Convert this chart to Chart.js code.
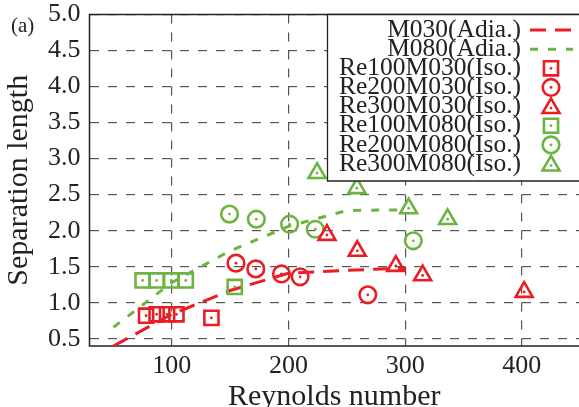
<!DOCTYPE html>
<html><head><meta charset="utf-8">
<script src="https://cdn.jsdelivr.net/npm/chart.js@4.4.1/dist/chart.umd.min.js"></script>
<style>html,body{margin:0;padding:0;background:#fff;overflow:hidden}#wrap{width:579px;height:407px}</style>
</head><body><div id="wrap"><canvas id="c" width="579" height="407"></canvas></div>
<script>
// ---- data ----
const seriesLabels = ['M030(Adia.)','M080(Adia.)','Re100M030(Iso.)','Re200M030(Iso.)','Re300M030(Iso.)','Re100M080(Iso.)','Re200M080(Iso.)','Re300M080(Iso.)'];
const adiaRe = [50, 100, 150, 200, 250, 300];
const m030Adia = [0.40, 0.84, 1.17, 1.41, 1.45, 1.48];
const m080Adia = [0.66, 1.28, 1.72, 2.06, 2.28, 2.29];
const re100m030Re = [78, 87, 96, 104, 134];
const re100m030L  = [0.82, 0.84, 0.84, 0.84, 0.79];
const re200m030Re = [155, 172, 194, 210, 268];
const re200m030L  = [1.55, 1.47, 1.40, 1.36, 1.11];
const re300m030Re = [233, 259, 292, 315, 402];
const re300m030L  = [1.94, 1.72, 1.51, 1.38, 1.15];
const re100m080Re = [75, 87, 99.5, 112, 154];
const re100m080L  = [1.31, 1.31, 1.31, 1.31, 1.22];
const re200m080Re = [149.5, 172.5, 201, 223, 307];
const re200m080L  = [2.23, 2.16, 2.09, 2.02, 1.86];
const re300m080Re = [224.5, 258.7, 303, 336.4];
const re300m080L  = [2.80, 2.59, 2.31, 2.16];
const xTicks = [100, 200, 300, 400];
const yTicks = [0.5, 1.0, 1.5, 2.0, 2.5, 3.0, 3.5, 4.0, 4.5, 5.0];
const xTitle = 'Reynolds number';
const yTitle = 'Separation length';
const panelTag = '(a)';

// ---- styles ----
const RED = '#ec1c24', GREEN = '#6cb33f', INK = '#222';
const FONT = "'Liberation Serif', 'Times New Roman', serif";
const pts = (xs, ys) => xs.map((x, i) => ({x, y: ys[i]}));

function lineDs(label, xs, ys, color, dash, width) {
  return {label, data: pts(xs, ys), showLine: true, borderColor: color, backgroundColor: color,
    borderWidth: width, borderDash: dash, pointRadius: 0, pointHoverRadius: 0, fill: false, tension: 0, order: 2, isLine: true};
}
function markDs(label, xs, ys, color, style, r) {
  return {label, data: pts(xs, ys), showLine: false, borderColor: color, backgroundColor: 'rgba(0,0,0,0)',
    pointStyle: style, pointRadius: r, pointHoverRadius: r, pointBorderWidth: 2.6, borderWidth: 2.6, order: 1};
}

const datasets = [
  lineDs(seriesLabels[0], adiaRe, m030Adia, RED, [16, 9], 3),
  lineDs(seriesLabels[1], adiaRe, m080Adia, GREEN, [8, 10], 3),
  markDs(seriesLabels[2], re100m030Re, re100m030L, RED, 'rect', 10),
  markDs(seriesLabels[3], re200m030Re, re200m030L, RED, 'circle', 8.3),
  markDs(seriesLabels[4], re300m030Re, re300m030L, RED, 'triangle', 9.8),
  markDs(seriesLabels[5], re100m080Re, re100m080L, GREEN, 'rect', 10),
  markDs(seriesLabels[6], re200m080Re, re200m080L, GREEN, 'circle', 8.3),
  markDs(seriesLabels[7], re300m080Re, re300m080L, GREEN, 'triangle', 9.8)
];

function drawMarker(ctx, style, r, x, y, color) {
  ctx.save();
  ctx.strokeStyle = color; ctx.lineWidth = 2.6; ctx.fillStyle = 'rgba(0,0,0,0)';
  if (Chart.helpers && Chart.helpers.drawPoint) {
    Chart.helpers.drawPoint(ctx, {pointStyle: style, radius: r, rotation: 0, borderWidth: 2.6}, x, y);
  }
  ctx.fillStyle = color;
  ctx.beginPath(); ctx.arc(x, y, 1.4, 0, Math.PI * 2); ctx.fill();
  ctx.restore();
}

const framePlugin = {
  id: 'frame',
  beforeDatasetsDraw(chart) {
    const {ctx, chartArea: a} = chart;
    ctx.save();
    ctx.strokeStyle = INK; ctx.lineWidth = 1.5; ctx.setLineDash([]);
    ctx.beginPath();
    ctx.moveTo(a.right + 2, a.top); ctx.lineTo(a.left, a.top); ctx.lineTo(a.left, a.bottom); ctx.lineTo(a.right + 2, a.bottom);
    ctx.stroke();
    ctx.restore();
  }
};

const dotPlugin = {
  id: 'dots',
  afterDatasetsDraw(chart) {
    const ctx = chart.ctx;
    chart.data.datasets.forEach((ds, i) => {
      if (ds.isLine) return;
      const meta = chart.getDatasetMeta(i);
      ctx.save(); ctx.fillStyle = ds.borderColor;
      meta.data.forEach(el => { ctx.beginPath(); ctx.arc(el.x, el.y, 1.4, 0, Math.PI * 2); ctx.fill(); });
      ctx.restore();
    });
  }
};

const legendPlugin = {
  id: 'boxLegend',
  afterDraw(chart) {
    const {ctx, chartArea: a} = chart;
    const boxL = 327.5, boxB = 181;
    ctx.save();
    ctx.fillStyle = '#fff';
    ctx.fillRect(boxL, a.top, chart.width - boxL + 5, boxB - a.top);
    ctx.strokeStyle = INK; ctx.lineWidth = 1.3; ctx.setLineDash([]);
    ctx.beginPath(); ctx.moveTo(chart.width + 2, a.top); ctx.lineTo(boxL, a.top); ctx.lineTo(boxL, boxB); ctx.lineTo(chart.width + 2, boxB); ctx.stroke();
    ctx.font = '25.5px ' + FONT; ctx.fillStyle = INK; ctx.textAlign = 'right'; ctx.textBaseline = 'middle';
    chart.data.datasets.forEach((ds, i) => {
      const y = 30 + i * 19.15;
      ctx.fillStyle = INK;
      ctx.fillText(ds.label, 521, y);
      if (ds.isLine) {
        ctx.save(); ctx.strokeStyle = ds.borderColor; ctx.lineWidth = ds.borderWidth; ctx.setLineDash(ds.borderDash);
        ctx.beginPath(); ctx.moveTo(530, y); ctx.lineTo(573, y); ctx.stroke(); ctx.restore();
      } else {
        drawMarker(ctx, ds.pointStyle, ds.pointRadius, 551, y + (ds.pointStyle === 'triangle' ? 1.5 : 0), ds.borderColor);
      }
    });
    // panel tag
    ctx.textAlign = 'left'; ctx.textBaseline = 'alphabetic'; ctx.font = '21px ' + FONT; ctx.fillStyle = INK;
    ctx.fillText(panelTag, 11, 32);
    ctx.restore();
  }
};

new Chart(document.getElementById('c'), {
  type: 'scatter',
  data: {datasets},
  plugins: [framePlugin, dotPlugin, legendPlugin],
  options: {
    responsive: false, animation: false, devicePixelRatio: 1,
    layout: {autoPadding: false, padding: {top: 14.5, right: 0, left: 0, bottom: 0}},
    plugins: {legend: {display: false}, tooltip: {enabled: false}},
    scales: {
      x: {
        type: 'linear', min: 29.5, max: 449,
        afterBuildTicks: s => { s.ticks = xTicks.map(v => ({value: v})); },
        afterFit: s => { s.height = 61; s.paddingLeft = 0; s.paddingRight = 0; },
        ticks: {font: {family: FONT, size: 26}, color: INK, padding: 5, maxRotation: 0, autoSkip: false, callback: v => String(v)},
        grid: {color: '#555', lineWidth: 1.2, drawTicks: false},
        border: {display: false, dash: [9, 9]},
        title: {display: true, text: xTitle, color: INK, font: {family: FONT, size: 30, lineHeight: 0.65}, padding: 0}
      },
      y: {
        type: 'linear', min: 0.4, max: 5.0,
        afterBuildTicks: s => { s.ticks = yTicks.map(v => ({value: v})); },
        afterFit: s => { s.width = 89.5; s.paddingTop = 0; s.paddingBottom = 0; },
        ticks: {font: {family: FONT, size: 26}, color: INK, padding: 9, autoSkip: false, callback: v => Number(v).toFixed(1)},
        grid: {color: '#555', lineWidth: 1.2, drawTicks: false},
        border: {display: false, dash: [9, 9]},
        title: {display: true, text: yTitle, color: INK, font: {family: FONT, size: 30, lineHeight: 1.2}, padding: {top: 1, bottom: 0}}
      }
    }
  }
});
</script>
</body></html>
